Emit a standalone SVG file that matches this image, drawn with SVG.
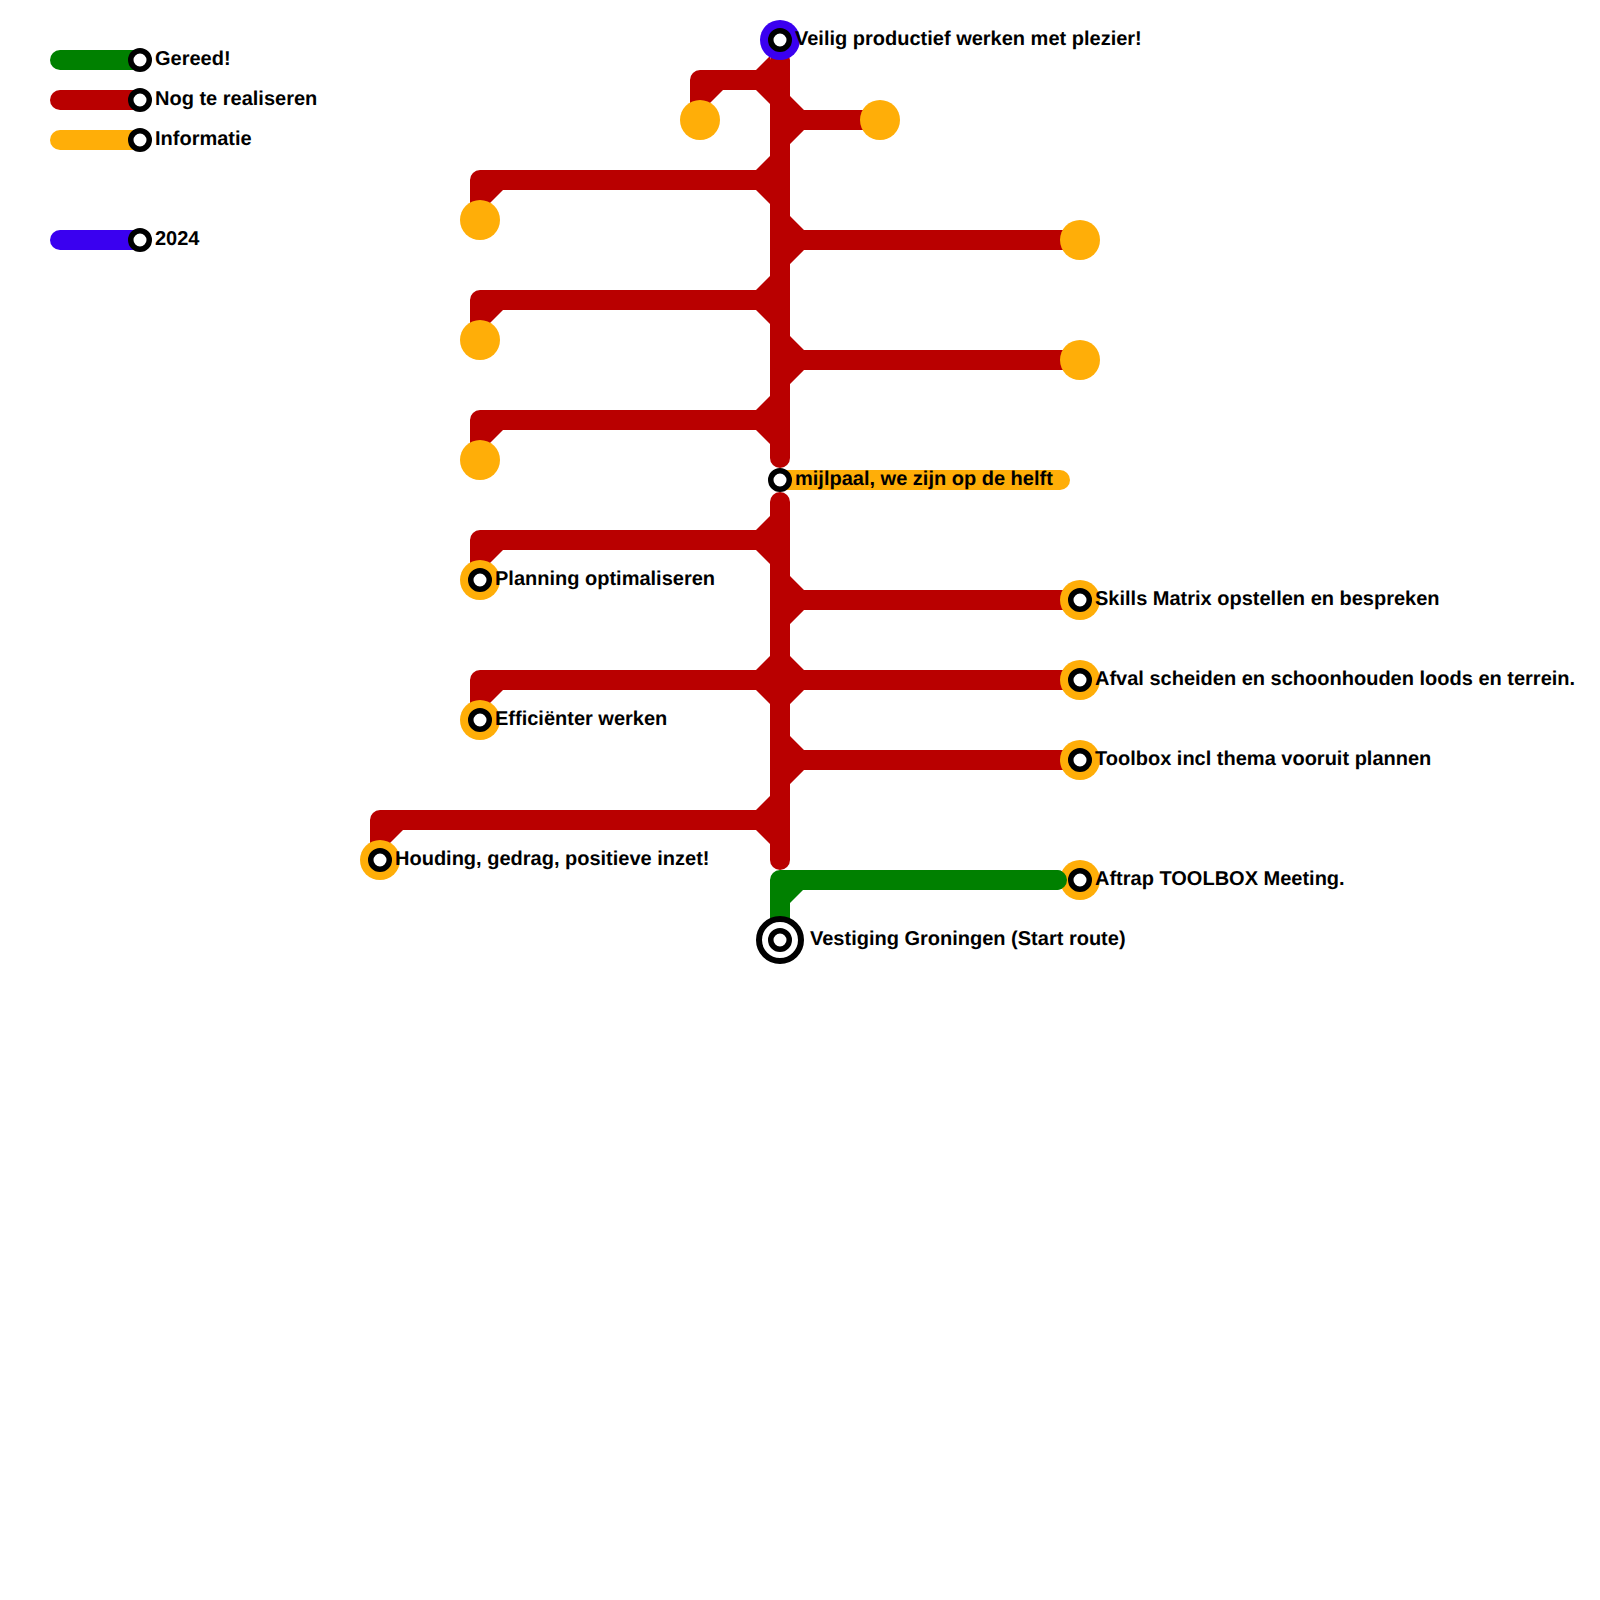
<svg xmlns="http://www.w3.org/2000/svg" width="1600" height="1600" viewBox="0 0 1600 1600">
<style>
.line{fill:none;stroke-width:20;stroke-linecap:round;stroke-linejoin:round}
.red{stroke:#b90000}.green{stroke:#008000}.orange{stroke:#ffae08}.blue{stroke:#3a00f0}
.j{fill:#b90000}
.dot{fill:#ffae08}
.ring{fill:#fff;stroke:#000;stroke-width:5.500}
text{font-family:"Liberation Sans",Arial,sans-serif;font-size:20px;font-weight:700;fill:#000;text-rendering:geometricPrecision}
</style>
<defs>
<path id="jl" class="j" d="M0 -24L-14 -10L-24 -10L-24 10L-14 10L0 24Z"/>
<path id="jr" class="j" d="M0 -24L14 -10L24 -10L24 10L14 10L0 24Z"/>
<path id="cl" class="j" d="M-10 0L23 0L10 13L-10 33Z"/>
</defs>
<g id="connectors">
<path class="line orange" d="M780 480H1060"/>
<path class="line red" d="M780 60V458"/>
<path class="line red" d="M780 502V860"/>
<path class="line red" d="M700 120V80H780"/>
<path class="line red" d="M780 120H880"/>
<path class="line red" d="M480 220V180H780"/>
<path class="line red" d="M780 240H1080"/>
<path class="line red" d="M480 340V300H780"/>
<path class="line red" d="M780 360H1080"/>
<path class="line red" d="M480 460V420H780"/>
<path class="line red" d="M480 580V540H780"/>
<path class="line red" d="M780 600H1080"/>
<path class="line red" d="M480 720V680H1080"/>
<path class="line red" d="M780 760H1080"/>
<path class="line red" d="M380 860V820H780"/>
<path class="line green" d="M780 940V880H1057"/>
<use href="#cl" x="700" y="90"/><use href="#cl" x="480" y="190"/><use href="#cl" x="480" y="310"/><use href="#cl" x="480" y="430"/><use href="#cl" x="480" y="550"/><use href="#cl" x="480" y="690"/><use href="#cl" x="380" y="830"/>
<path fill="#008000" d="M770 890H803L790 903L770 923Z"/>
<use href="#jl" x="770" y="80"/><use href="#jl" x="770" y="180"/><use href="#jl" x="770" y="300"/><use href="#jl" x="770" y="420"/><use href="#jl" x="770" y="540"/><use href="#jl" x="770" y="680"/><use href="#jl" x="770" y="820"/>
<use href="#jr" x="790" y="120"/><use href="#jr" x="790" y="240"/><use href="#jr" x="790" y="360"/><use href="#jr" x="790" y="600"/><use href="#jr" x="790" y="680"/><use href="#jr" x="790" y="760"/>
</g>
<g id="legend">
<path class="line green" d="M60 60H140"/><circle class="ring" cx="140" cy="60" r="9.250"/><text x="155" y="65">Gereed!</text>
<path class="line red" d="M60 100H140"/><circle class="ring" cx="140" cy="100" r="9.250"/><text x="155" y="105">Nog te realiseren</text>
<path class="line orange" d="M60 140H140"/><circle class="ring" cx="140" cy="140" r="9.250"/><text x="155" y="145">Informatie</text>
<path class="line blue" d="M60 240H140"/><circle class="ring" cx="140" cy="240" r="9.250"/><text x="155" y="245">2024</text>
</g>
<g id="n-top"><circle cx="780" cy="40" r="20" fill="#3a00f0"/><circle class="ring" cx="780" cy="40" r="9.250"/><text x="795" y="45">Veilig productief werken met plezier!</text></g>
<g id="n-a"><circle class="dot" cx="700" cy="120" r="20"/></g>
<g id="n-b"><circle class="dot" cx="880" cy="120" r="20"/></g>
<g id="n-c"><circle class="dot" cx="480" cy="220" r="20"/></g>
<g id="n-d"><circle class="dot" cx="1080" cy="240" r="20"/></g>
<g id="n-e"><circle class="dot" cx="480" cy="340" r="20"/></g>
<g id="n-f"><circle class="dot" cx="1080" cy="360" r="20"/></g>
<g id="n-g"><circle class="dot" cx="480" cy="460" r="20"/></g>
<g id="n-mid"><circle class="ring" cx="780" cy="480" r="9.250"/><text x="795" y="485">mijlpaal, we zijn op de helft</text></g>
<g id="n-plan"><circle class="dot" cx="480" cy="580" r="20"/><circle class="ring" cx="480" cy="580" r="9.250"/><text x="495" y="585">Planning optimaliseren</text></g>
<g id="n-skills"><circle class="dot" cx="1080" cy="600" r="20"/><circle class="ring" cx="1080" cy="600" r="9.250"/><text x="1095" y="605">Skills Matrix opstellen en bespreken</text></g>
<g id="n-afval"><circle class="dot" cx="1080" cy="680" r="20"/><circle class="ring" cx="1080" cy="680" r="9.250"/><text x="1095" y="685">Afval scheiden en schoonhouden loods en terrein.</text></g>
<g id="n-eff"><circle class="dot" cx="480" cy="720" r="20"/><circle class="ring" cx="480" cy="720" r="9.250"/><text x="495" y="725">Efficiënter werken</text></g>
<g id="n-toolbox"><circle class="dot" cx="1080" cy="760" r="20"/><circle class="ring" cx="1080" cy="760" r="9.250"/><text x="1095" y="765">Toolbox incl thema vooruit plannen</text></g>
<g id="n-houding"><circle class="dot" cx="380" cy="860" r="20"/><circle class="ring" cx="380" cy="860" r="9.250"/><text x="395" y="865">Houding, gedrag, positieve inzet!</text></g>
<g id="n-aftrap"><circle class="dot" cx="1080" cy="880" r="20"/><path class="line green" d="M1050 880H1057"/><circle class="ring" cx="1080" cy="880" r="9.250"/><text x="1095" y="885">Aftrap TOOLBOX Meeting.</text></g>
<g id="n-start"><circle cx="780" cy="940" r="21" fill="#fff" stroke="#000" stroke-width="6"/><circle class="ring" cx="780" cy="940" r="9.250"/><text x="810" y="945">Vestiging Groningen (Start route)</text></g>
</svg>
